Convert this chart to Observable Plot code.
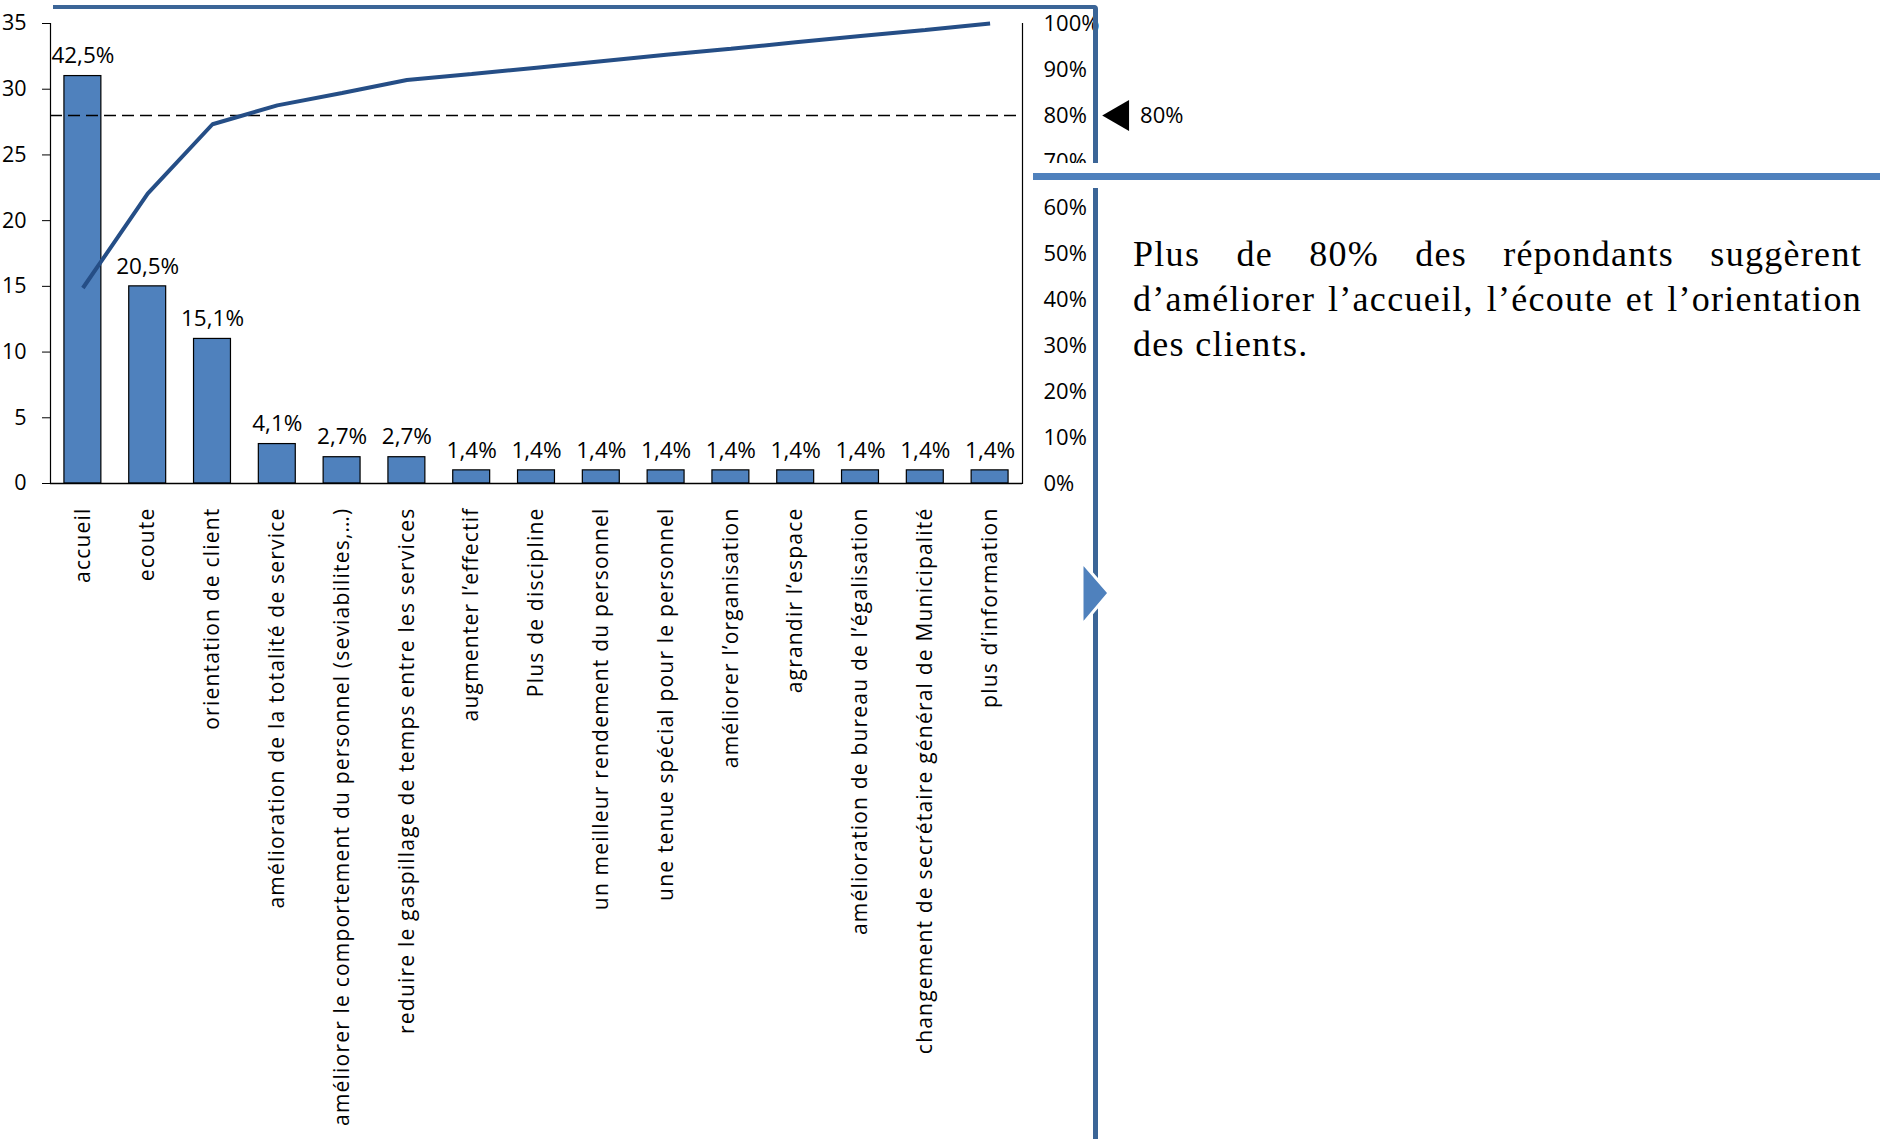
<!DOCTYPE html>
<html>
<head>
<meta charset="utf-8">
<script src="https://cdn.jsdelivr.net/npm/d3@7"></script>
<script src="https://cdn.jsdelivr.net/npm/@observablehq/plot@0.6"></script>
<style>
  html, body { margin: 0; padding: 0; background: #fff; }
  #wrap { position: relative; width: 1880px; height: 1139px; overflow: hidden; background: #fff; }
  #chart { position: absolute; left: 0; top: 0; }
  .ov { position: absolute; }
  #para { position: absolute; left: 1133px; top: 232px; width: 729px;
          font-family: "Liberation Serif", "DejaVu Serif", serif; font-size: 36px;
          line-height: 45px; letter-spacing: 1.3px; color: #000; }
  #para .j { text-align: justify; text-align-last: justify; white-space: nowrap; }
  #para .l { text-align: left; white-space: nowrap; }
</style>
</head>
<body>
<div id="wrap">
  <div id="chart"></div>
  <!-- text box border decorations -->
  <div class="ov" style="left:53px;top:5px;width:1044px;height:4px;background:#3b6597;border-top-right-radius:4px;"></div>
  <div class="ov" style="left:1093px;top:5px;width:5px;height:158px;background:#3b6597;border-top-right-radius:4px;"></div>
  <div class="ov" style="left:1033px;top:163px;width:847px;height:25px;background:#fff;"></div>
  <div class="ov" style="left:1033px;top:173px;width:847px;height:7px;background:#4f81bd;"></div>
  <div class="ov" style="left:1093px;top:188px;width:5px;height:951px;background:#3b6597;"></div>
  <svg class="ov" style="left:1070px;top:550px;" width="60" height="90">
    <polygon points="12,12 39,43 12,75" fill="#4f81bd" stroke="#fff" stroke-width="3" stroke-linejoin="miter"/>
  </svg>
  <div id="para">
    <div class="j">Plus de 80% des répondants suggèrent</div>
    <div class="j">d’améliorer l’accueil, l’écoute et l’orientation</div>
    <div class="l">des clients.</div>
  </div>
</div>
<script>
// ---- data ----
const categories = [
  "accueil",
  "ecoute",
  "orientation de client",
  "amélioration de la totalité de service",
  "améliorer le comportement du personnel (seviabilites,…)",
  "reduire le gaspillage de temps entre les services",
  "augmenter l’effectif",
  "Plus de discipline",
  "un meilleur rendement du personnel",
  "une tenue spécial pour le personnel",
  "améliorer l’organisation",
  "agrandir l’espace",
  "amélioration de bureau de l’égalisation",
  "changement de secrétaire général de Municipalité",
  "plus d’information"
];
const counts = [31, 15, 11, 3, 2, 2, 1, 1, 1, 1, 1, 1, 1, 1, 1];
const shareLabels = ["42,5%", "20,5%", "15,1%", "4,1%", "2,7%", "2,7%", "1,4%", "1,4%", "1,4%", "1,4%", "1,4%", "1,4%", "1,4%", "1,4%", "1,4%"];
const cumulativePct = [42.5, 63.0, 78.1, 82.2, 84.9, 87.7, 89.0, 90.4, 91.8, 93.2, 94.5, 95.9, 97.3, 98.6, 100];
const leftTicks = [0, 5, 10, 15, 20, 25, 30, 35];
const rightTicks = [0, 10, 20, 30, 40, 50, 60, 70, 80, 90, 100];
const thresholdPct = 80;
const thresholdLabel = "80%";
const yMax = 35;

const toLeft = p => p * yMax / 100;
const data = categories.map((c, i) => ({cat: c, count: counts[i], label: shareLabels[i], cum: cumulativePct[i]}));
const lastCat = categories[categories.length - 1];

const chart = Plot.plot({
  width: 1880,
  height: 1139,
  marginLeft: 50,
  marginRight: 858,
  marginTop: 23,
  marginBottom: 656,
  style: {fontFamily: "'Open Sans', 'Noto Sans', sans-serif", color: "#000", background: "transparent", overflow: "visible"},
  x: {domain: categories, paddingInner: 0.43, paddingOuter: 0.215, round: false, axis: null},
  y: {domain: [0, yMax], axis: null},
  marks: [
    Plot.barY(data, {x: "cat", y: "count", fill: "#4f81bd", stroke: "#000", strokeWidth: 1.2}),
    Plot.ruleY([toLeft(thresholdPct)], {stroke: "#000", strokeWidth: 1.5, strokeDasharray: "12,6"}),
    Plot.lineY(data, {x: "cat", y: d => toLeft(d.cum), stroke: "#254e86", strokeWidth: 4, strokeLinecap: "butt", strokeLinejoin: "miter"}),
    Plot.text(data, {x: "cat", y: "count", text: "label", dy: -20, fontSize: 22.5, fill: "#000"}),
    Plot.frame({anchor: "left", stroke: "#000", strokeWidth: 1.2}),
    Plot.frame({anchor: "right", stroke: "#000", strokeWidth: 1.2}),
    Plot.ruleY([0], {stroke: "#000", strokeWidth: 1.5}),
    Plot.axisY({anchor: "left", ticks: leftTicks, tickSize: 8, tickPadding: 16, fontSize: 21.5, label: null, stroke: "#000"}),
    Plot.axisY({anchor: "right", ticks: rightTicks.map(toLeft), tickFormat: v => Math.round(v * 100 / yMax) + "%", tickSize: 0, tickPadding: 21, fontSize: 22, label: null}),
    Plot.axisX({anchor: "bottom", tickRotate: -90, tickSize: 0, tickPadding: 24, fontSize: 21, label: null}),
    Plot.dot([toLeft(thresholdPct)], {x: () => lastCat, y: d => d, dx: 130, symbol: "triangle", rotate: -90, r: 11.5, fill: "#000", stroke: "none"}),
    Plot.text([toLeft(thresholdPct)], {x: () => lastCat, y: d => d, dx: 150, text: () => thresholdLabel, textAnchor: "start", fontSize: 22, fill: "#000"})
  ]
});
document.getElementById("chart").appendChild(chart);
chart.querySelectorAll('[aria-label="x-axis tick label"] text').forEach(t => t.style.letterSpacing = "1.2px");
</script>
</body>
</html>
